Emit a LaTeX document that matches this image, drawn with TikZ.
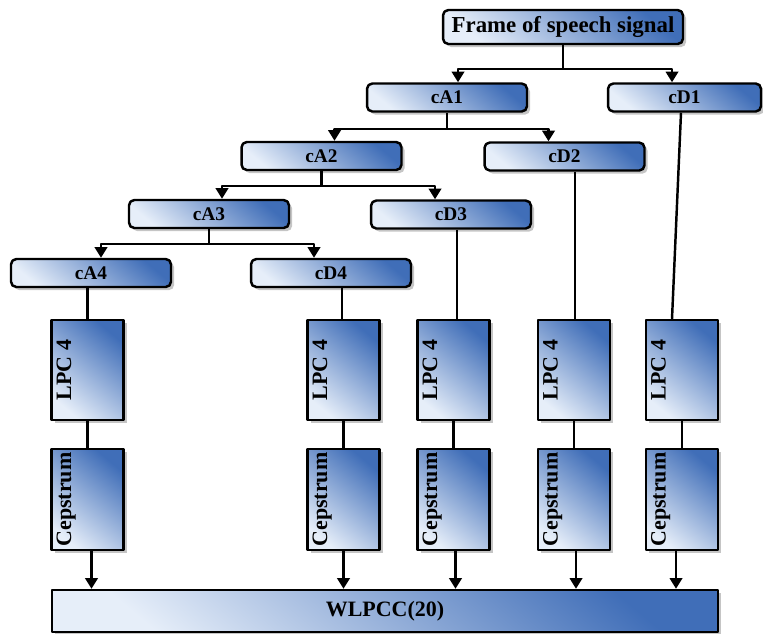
\documentclass[tikz,border=0pt]{standalone}
\usepackage{fontspec}
\setmainfont{Liberation Serif}
\usetikzlibrary{arrows.meta,shadows,calc}
\definecolor{boxblue}{RGB}{64,110,184}
\definecolor{boxpale}{RGB}{230,238,249}
\begin{document}
\begin{tikzpicture}[x=.02cm,y=-.02cm,>={Triangle[length=6pt,width=7pt]},line width=1.4pt,line join=round,
	font=\bfseries\fontsize{11.5}{13}\selectfont,
	blk/.style={draw=black,line width=1.4pt,inner sep=0pt,top color=boxblue,bottom color=boxpale,shading angle=-40,
		drop shadow={shadow xshift=1.8pt,shadow yshift=-1.8pt,fill=black!45,opacity=.5}},
	band/.style={blk,rounded corners=3pt,minimum width=3.2cm,minimum height=.56cm,font=\bfseries\fontsize{11}{12}\selectfont},
	lpcbox/.style={blk,minimum width=1.44cm,minimum height=2cm},
	cepbox/.style={blk,minimum width=1.44cm,minimum height=2.02cm}]
	\useasboundingbox (0,0) rectangle (763,633);
	% decomposition tree
	\node[band,minimum width=4.8cm,minimum height=.68cm,font=\bfseries\fontsize{13}{14}\selectfont] (frame) at (563,27) {Frame of speech signal};
	\node[band] (cA1) at (447,97.5) {cA1};
	\node[band,minimum width=3.06cm] (cD1) at (684.5,97.5) {cD1};
	\node[band] (cA2) at (321.5,156) {cA2};
	\node[band] (cD2) at (564.5,156.5) {cD2};
	\node[band] (cA3) at (209,214) {cA3};
	\node[band] (cD3) at (451,214.5) {cD3};
	\node[band] (cA4) at (91,273) {cA4};
	\node[band] (cD4) at (331,273) {cD4};
	% feature boxes
	\foreach \i/\x in {1/87.5,2/343.5,3/453.5,4/574,5/682}{
		\node[lpcbox] (lpc\i) at (\x,370) {\makebox[1.38cm][l]{\hspace{2pt}\fontsize{12.5}{14}\selectfont\rotatebox{90}{LPC 4}}};
		\node[cepbox] (cep\i) at (\x,499.5) {\makebox[1.38cm][l]{\hspace{2pt}\fontsize{12.5}{14}\selectfont\rotatebox{90}{Cepstrum}}};
		\draw (lpc\i.south) -- (cep\i.north);
	}
	\node[blk,minimum width=13.32cm,minimum height=.84cm,font=\bfseries\fontsize{12.5}{14}\selectfont] (wlpcc) at (385,611) {WLPCC(20)};
	% branches
	\draw (frame.south) -- ++(0,24) coordinate (s0);
	\draw[<->] ($(cA1.north)+(11,0)$) |- (s0) -| ($(cD1.north)+(-12.5,0)$);
	\draw (cA1.south) -- ++(0,16) coordinate (s1);
	\draw[<->] ($(cA2.north)+(13,0)$) |- (s1) -| ($(cD2.north)+(-16,0)$);
	\draw (cA2.south) -- ++(0,15) coordinate (s2);
	\draw[<->] ($(cA3.north)+(13,0)$) |- (s2) -| ($(cD3.north)+(-16,0)$);
	\draw (cA3.south) -- ++(0,15) coordinate (s3);
	\draw[<->] ($(cA4.north)+(10,0)$) |- (s3) -| ($(cD4.north)+(-17,0)$);
	% links to LPC
	\draw (lpc1.north |- cA4.south) -- (lpc1.north);
	\draw ([xshift=-.03cm]lpc2.north |- cD4.south) -- ([xshift=-.03cm]lpc2.north);
	\draw ([xshift=.07cm]lpc3.north |- cD3.south) -- ([xshift=.07cm]lpc3.north);
	\draw ([xshift=.02cm]lpc4.north |- cD2.south) -- ([xshift=.02cm]lpc4.north);
	\draw ($(cD1.south)+(-3.5,0)$) -- ($(lpc5.north)+(-10,0)$);
	% into WLPCC
	\foreach \i/\d in {1/4,2/0,3/2,4/2,5/-6}{
		\path ([xshift=\d*.02cm]cep\i.south) coordinate (t\i);
		\draw[->] (t\i) -- (t\i |- wlpcc.north);
	}
\end{tikzpicture}
\end{document}
